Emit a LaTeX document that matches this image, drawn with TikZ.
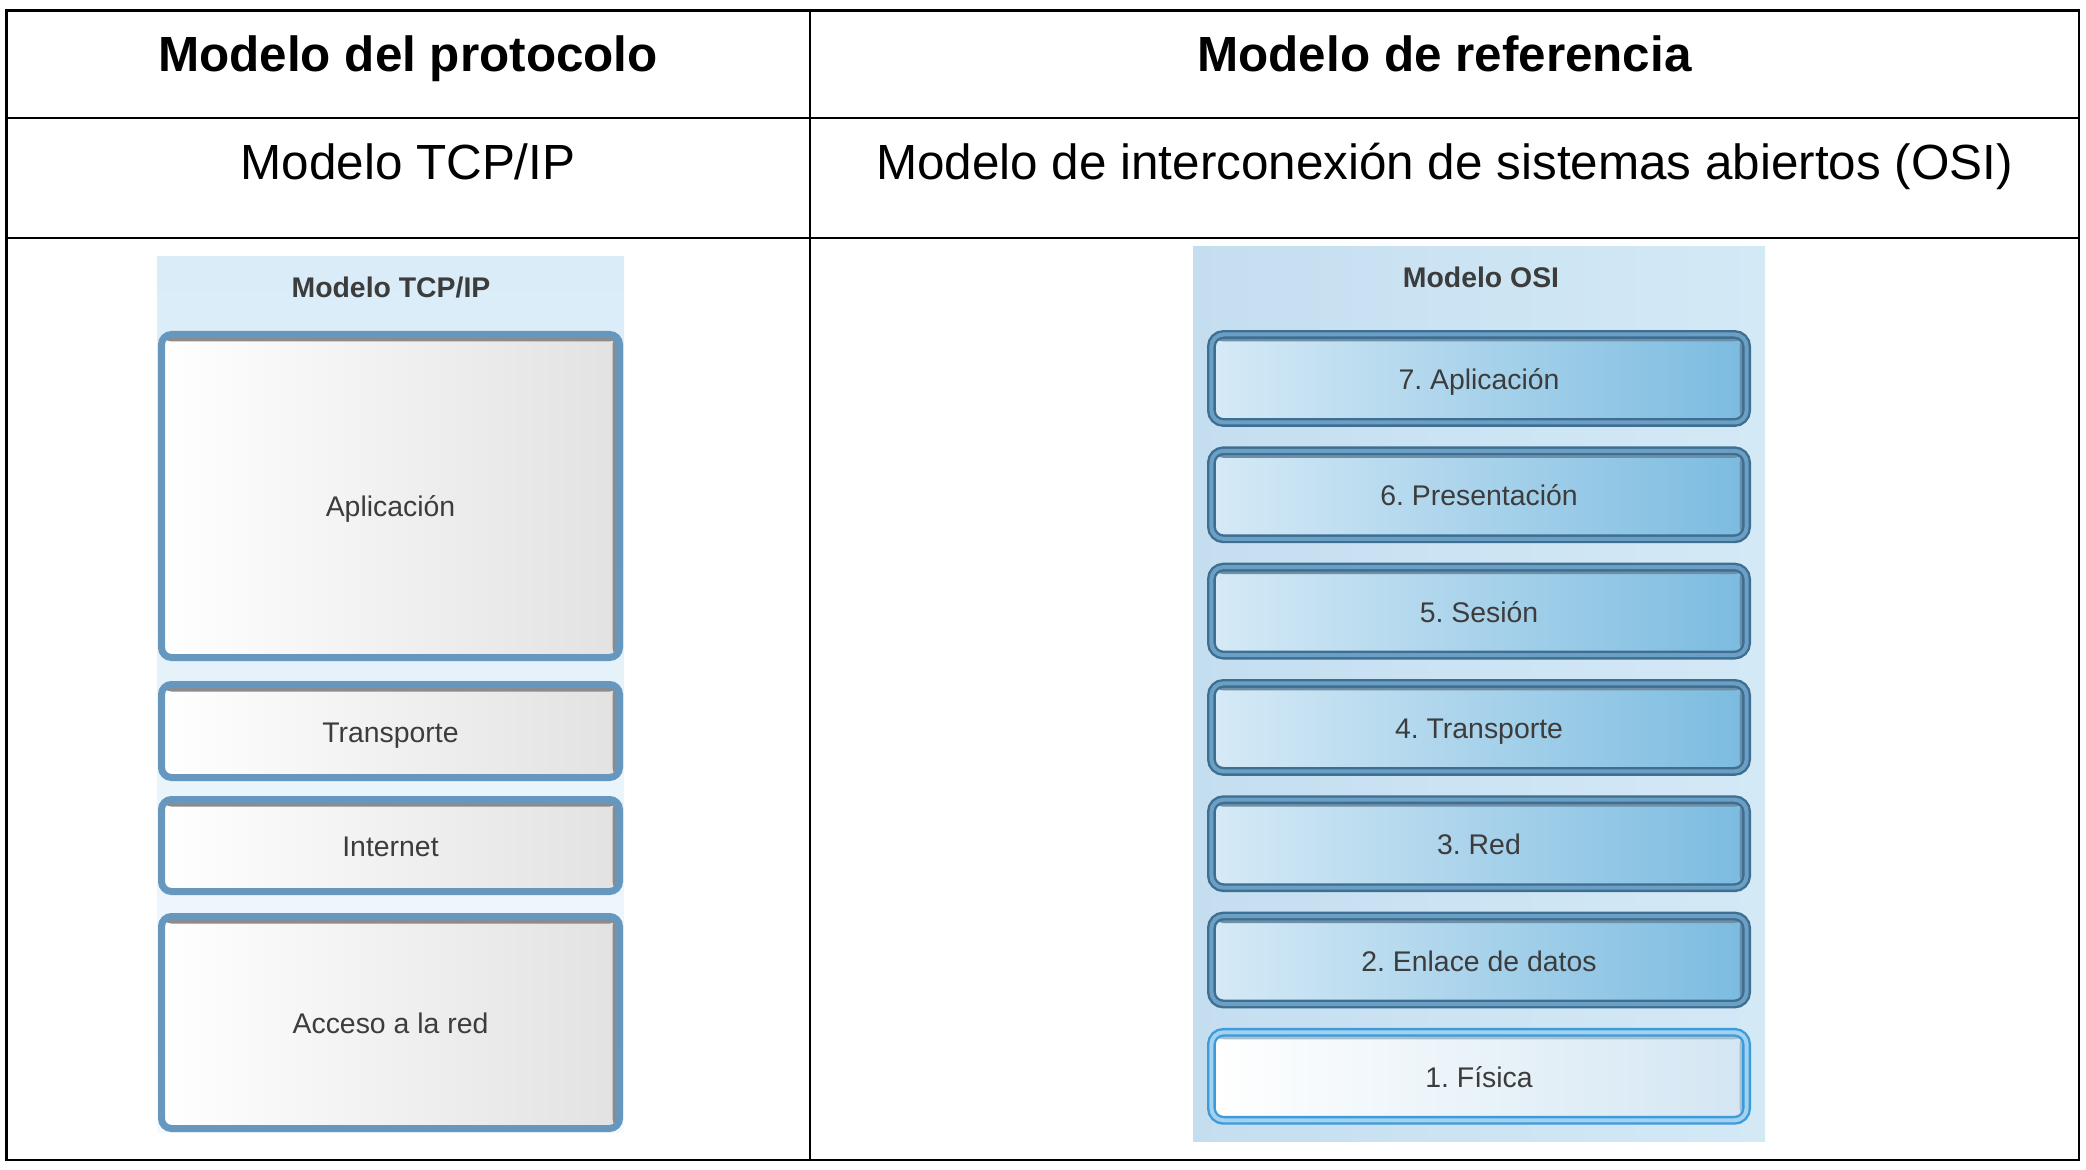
\documentclass[tikz,border=0pt]{standalone}
\usepackage{fontspec}
\setmainfont{Liberation Sans}
\frenchspacing
\definecolor{tcpline}{HTML}{6697BE}
\definecolor{tcpgray}{HTML}{E2E2E2}
\definecolor{tcpshade}{HTML}{8C8C8C}
\definecolor{osidark}{HTML}{3E6F92}
\definecolor{osimid}{HTML}{6C9FC4}
\definecolor{osileft}{HTML}{D6EAF6}
\definecolor{osiright}{HTML}{7BBBE0}
\definecolor{osishade}{HTML}{6F8FA6}
\definecolor{fisline}{HTML}{3E9BDA}
\definecolor{fismid}{HTML}{A3D2F1}
\definecolor{fisright}{HTML}{D3E6F3}
\definecolor{fisshade}{HTML}{A9BFCE}
\definecolor{paneltop}{HTML}{D9ECF8}
\definecolor{panelbot}{HTML}{F4F9FD}
\definecolor{osipanelL}{HTML}{C4DEF0}
\definecolor{osipanelR}{HTML}{D4E9F6}
\definecolor{labelgray}{HTML}{3C3C3C}

\tikzset{
  tableline/.style={line width=1.3pt, black},
  tabletext/.style={font=\fontsize{24.7}{30}\selectfont, anchor=base, inner sep=0pt},
  layerfont/.style={font=\fontsize{14.2}{17}\selectfont, text=labelgray, text height=11pt, text depth=0pt},
  paneltitle/.style={font=\bfseries\fontsize{14.2}{17}\selectfont, text=labelgray, inner sep=0pt},
  innershade/.style={path picture={
    \fill[#1] (path picture bounding box.north west) rectangle ([yshift=-3.5pt]path picture bounding box.north east);
    \fill[#1] (path picture bounding box.north east) rectangle ([xshift=-3.5pt]path picture bounding box.south east);}},
  tcplayer/.style={draw=tcpline, line width=3.5pt, rounded corners=5pt,
    left color=white, right color=tcpgray, innershade=tcpshade,
    minimum width=229pt, inner sep=0pt, layerfont},
  osilayer/.style={draw=osidark, double=osimid, double distance=2pt, line width=1.2pt,
    rounded corners=6pt, left color=osileft, right color=osiright, innershade=osishade,
    minimum width=267.6pt, minimum height=44pt, inner sep=0pt, layerfont},
  fislayer/.style={osilayer, draw=fisline, double=fismid,
    left color=white, right color=fisright, innershade=fisshade}
}

\begin{document}
\begin{tikzpicture}[x=0.5pt,y=-0.5pt]
\useasboundingbox (0,0) rectangle (2086,1170);
%
% table
\draw[tableline] (6.6,10.6) rectangle (2079,1160);
\draw[tableline] (6.6,118) -- (2079,118);
\draw[tableline] (6.6,238) -- (2079,238);
\draw[tableline] (810,10.6) -- (810,1160);
\node[tabletext, font=\bfseries\fontsize{24.7}{30}\selectfont] (hdrprot) at (408,72) {Modelo del protocolo};
\node[tabletext, font=\bfseries\fontsize{24.7}{30}\selectfont] (hdrref) at (1444.5,72) {Modelo de referencia};
\node[tabletext] (tcpname) at (408,180) {Modelo TCP/IP};
\node[tabletext] (osiname) at (1444.5,180) {Modelo de interconexión de sistemas abiertos (OSI)};
%
% TCP/IP picture
\shade[top color=paneltop, bottom color=panelbot] (157,257) rectangle (624,1132);
\node[paneltitle] (tcptitle) at (391,287) {Modelo TCP/IP};
\node[tcplayer, minimum height=161.5pt, text height=20.6pt] (app) at (390.5,496) {Aplicación};
\node[tcplayer, minimum height=46.5pt] (transp) at (390.5,731) {Transporte};
\node[tcplayer, minimum height=46pt] (inet) at (390.5,845.5) {Internet};
\node[tcplayer, minimum height=106pt] (access) at (390.5,1022.5) {Acceso a la red};
%
% OSI picture
\shade[left color=osipanelL, right color=osipanelR] (1193,247) rectangle (1765,1141);
\node[paneltitle] (osititle) at (1481,277) {Modelo OSI};
\node[osilayer] (osi7) at (1479,378.5) {7. Aplicación};
\node[osilayer] (osi6) at (1479,494.8) {6. Presentación};
\node[osilayer] (osi5) at (1479,611.1) {5. Sesión};
\node[osilayer] (osi4) at (1479,727.4) {4. Transporte};
\node[osilayer] (osi3) at (1479,843.7) {3. Red};
\node[osilayer] (osi2) at (1479,960) {2. Enlace de datos};
\node[fislayer] (osi1) at (1479,1076.3) {1. Física};
\end{tikzpicture}
\end{document}
